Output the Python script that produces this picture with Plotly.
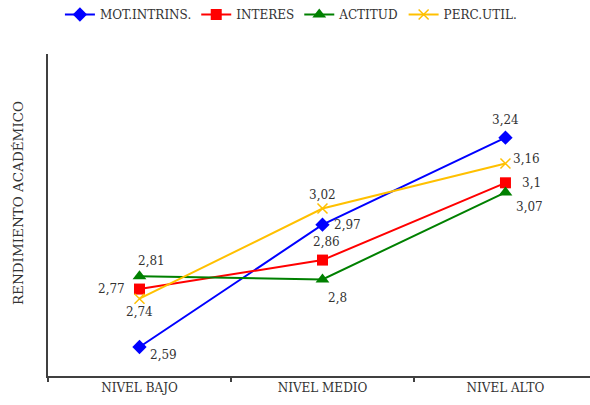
import plotly.graph_objects as go

# Academic performance by level for each motivational factor
niveles = ["NIVEL BAJO", "NIVEL MEDIO", "NIVEL ALTO"]
mot_intrins = [2.59, 2.97, 3.24]
interes = [2.77, 2.86, 3.10]
actitud = [2.81, 2.80, 3.07]
perc_util = [2.74, 3.02, 3.16]

series = [
    ("MOT.INTRINS.", mot_intrins, "#0000FF", "diamond", 11),
    ("INTERES", interes, "#FF0000", "square", 11),
    ("ACTITUD", actitud, "#008000", "triangle-up", 12),
    ("PERC.UTIL.", perc_util, "#FFC000", "x-thin", 10),
]

# label offsets (pixels) per series and level
label_shift = {
    "MOT.INTRINS.": [(24, -8), (25, 0), (0, 18)],
    "INTERES": [(-28, 0), (4, 18), (26, 0)],
    "ACTITUD": [(12, 15), (15, -19), (24, -15)],
    "PERC.UTIL.": [(0, -13), (0, 14), (21, 4)],
}

font_family = "'DejaVu Serif', 'Liberation Serif', serif"
text_color = "#333333"

fig = go.Figure()
for name, vals, color, symbol, size in series:
    marker = dict(symbol=symbol, size=size, color=color)
    if symbol == "x-thin":
        marker["line"] = dict(color=color, width=1.5)
    fig.add_trace(go.Scatter(
        x=niveles, y=vals, name=name, mode="lines+markers",
        line=dict(color=color, width=2), marker=marker,
    ))
    for i, v in enumerate(vals):
        dx, dy = label_shift[name][i]
        txt = f"{v:g}".replace(".", ",")
        fig.add_annotation(
            x=niveles[i], y=v, text=txt, showarrow=False,
            xshift=dx, yshift=dy,
            font=dict(family=font_family, size=12, color=text_color),
        )

# vertical axis title
fig.add_annotation(
    text="RENDIMIENTO ACADÉMICO", textangle=-90, showarrow=False,
    xref="paper", yref="paper", x=0, y=0.537, xanchor="center", yanchor="middle",
    xshift=-30, font=dict(family=font_family, size=13.5, color=text_color),
)

fig.update_layout(
    width=590, height=405,
    margin=dict(l=48, r=0, t=54, b=29),
    paper_bgcolor="white", plot_bgcolor="white",
    font=dict(family=font_family, size=12, color=text_color),
    legend=dict(
        orientation="h", x=0.022, y=1.0, yref="container", yanchor="top",
        xanchor="left", font=dict(family=font_family, size=12, color=text_color),
        itemwidth=30, tracegroupgap=0,
    ),
    showlegend=True,
)
fig.update_xaxes(
    type="category", range=[-0.5, 2.462],
    showline=True, linecolor="#404040", linewidth=2,
    ticks="outside", tickson="boundaries", ticklen=4, tickwidth=2, tickcolor="#404040",
    showgrid=False, zeroline=False,
    tickfont=dict(family=font_family, size=12, color=text_color),
)
fig.update_yaxes(
    range=[2.5, 3.5], showline=True, linecolor="#404040", linewidth=2,
    showticklabels=False, ticks="", showgrid=False, zeroline=False,
)

fig.write_html("out.html")
